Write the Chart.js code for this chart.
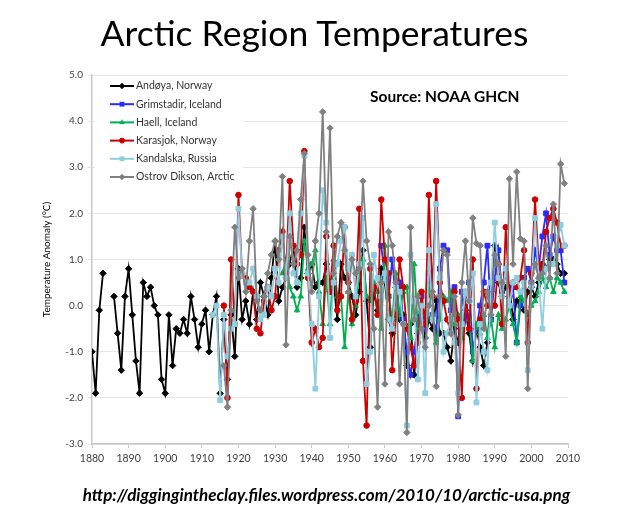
<!DOCTYPE html>
<html lang="en">
<head>
<meta charset="UTF-8">
<title>Arctic Region Temperatures</title>
<script src="https://cdn.jsdelivr.net/npm/chart.js"></script>
<style>
  body { margin: 0; background: #fff; }
  #wrap { position: relative; width: 629px; height: 525px; font-family: Lato, "Open Sans", sans-serif; }
  #chart { position: absolute; left: 0; top: 0; }
  #title { position: absolute; left: 0; top: 13px; width: 629px; margin: 0; text-align: center;
           font-size: 35.5px; line-height: 40px; font-weight: normal; color: #000; }
  #source { position: absolute; left: 370px; top: 87px; font-size: 15.5px; font-weight: bold; color: #000; }
  #credit { position: absolute; left: 12px; top: 484px; width: 629px; text-align: center;
            font-size: 17px; font-weight: bold; font-style: italic; color: #000; }
</style>
</head>
<body>
<div id="wrap">
  <canvas id="chart" width="629" height="525"></canvas>
  <h1 id="title">Arctic Region Temperatures</h1>
  <div id="source">Source: NOAA GHCN</div>
  <div id="credit">http://diggingintheclay.files.wordpress.com/2010/10/arctic-usa.png</div>
</div>

<script>
// yearly anomalies (°C), each list starts at its own first year
const andoyaFrom = 1880;
const andoya = [-1.0, -1.9, -0.1, 0.7, null, null,
  0.2, -0.6, -1.4, 0.2, 0.8, -0.2, -1.2, -1.9, 0.5, 0.2, 0.4, 0.0, -0.2, -1.6,
  -1.9, -0.2, -1.3, -0.5, -0.6, -0.3, -0.6, 0.2, -0.3, -0.9, -0.4, -0.1, -1.0, -0.2,
  0.2, -1.9, -0.3, -1.6, -0.2, -1.1, 0.8, -0.3, 0.1, -0.4, 0.3, -0.3, 0.5, 0.2,
  -0.2, 0.6, 1.4, 0.1, 0.4, 0.6, 0.9, 1.3, 0.4, 0.6, 1.7, 0.7, 0.9, 0.4, 0.5, 0.5,
  0.9, 0.3, 0.5, -0.3, 0.9, 0.6, 0.5, 0.2, -0.2, 0.3, 1.2, 0.1, -0.9, 0.3, -0.1,
  0.8, 0.5, -0.3, -0.6, 0.4, -0.3, -0.2, -1.3, -0.4, -1.5, -0.6, -0.2, -0.7, -0.3,
  -0.5, 0.1, -0.6, -0.6, -0.9, -1.2, -0.5, -0.8, -0.3, -0.1, -0.6, -1.2, -0.5,
  -0.9, -1.3, -0.8, 0.3, 1.3, 0.5, 0.2, 0.4, 0.4, -0.3, 0.1, 0.1, -0.1, 0.3, 0.4,
  0.2, 0.5, 0.9, 0.8, 1.0, 1.0, 0.9, 0.7, 0.7];

const grimstadirFrom = 1959;
const grimstadir = [1.3, 0.6, 0.2, 1.0, 0.1, 0.5, -0.3, -1.0, -1.5, -1.0, -0.4, 0.2,
  -0.5, 0.7, -0.2, -0.6, 0.8, 1.3, 1.2, -0.1, 0.4, -2.4, 0.3, -0.3, 0.5, -1.0, -0.5,
  0.0, 0.5, 1.3, -0.3, 0.6, 1.2, 0.3, 0.7, 0.2, 0.4, -0.8, 0.0, 0.6, 0.8, 0.5, 1.2,
  0.8, 1.5, 2.0, 1.1, 1.5, 1.2, 1.2, 0.5];

const haellFrom = 1932;
const haell = [0.7, 1.0, 0.4, 0.2, -0.1, 0.2, 1.4, 0.8, 0.9, 1.2, 0.3, -0.4, 0.6, -0.4,
  1.0, 0.2, 0.2, -0.9, 0.3, -0.4, 0.0, 0.7, 1.0, 0.2, 0.1, 0.5, 0.3, -0.5, 1.3, 0.2,
  -0.3, 0.7, -0.2, 0.3, 0.4, -0.7, 0.9, -0.5, -0.1, -0.2, 0.4, -0.2, -0.8, -0.3, 0.2,
  0.1, 0.3, -0.4, -0.2, -0.7, 0.1, -0.3, -1.2, -0.4, -0.6, -0.2, -0.7, -0.3, -0.9,
  -0.2, -0.5, -0.3, 0.0, -0.4, -0.8, 0.2, 0.1, -0.2, 0.0, 0.1, 0.3, 0.6, 0.4, 0.6,
  0.3, 0.6, 0.5, 0.3];

const karasjokFrom = 1916;
const karasjok = [0.0, -2.0, 1.0, -0.4, 2.4, 0.7, 0.6, 0.4, 0.3, -0.5, -0.6, 0.1, 0.4,
  -0.1, 0.2, 1.2, 1.6, 0.7, 2.7, 1.3, 0.9, 1.1, 3.35, 0.6, -0.8, -0.5, -0.9, -0.7, 1.5,
  0.3, 1.3, -0.1, 0.2, 1.7, 0.5, -0.3, 0.1, 2.1, -1.2, -2.6, 0.8, 0.4, -0.2, 2.3, 1.0,
  0.7, -1.4, -0.2, 1.0, 0.4, -0.5, -0.9, -1.3, -0.8, 0.3, -0.4, 2.4, 0.2, 2.7, 0.5,
  0.1, -0.3, -0.6, 0.3, -0.3, -2.0, 0.3, -0.5, 1.0, -1.8, -0.3, 0.3, 0.0, 0.0, 0.0,
  0.9, -0.4, 1.7, 0.2, 0.5, 0.4, 0.6, 1.2, -0.8, 0.7, 2.3, 0.9, 0.8, 1.6, 1.9, 2.1,
  1.8, 1.3, 1.3];

const kandalskaFrom = 1913;
const kandalska = [-0.2, 0.0, -2.05, -0.2, -1.1, -0.5, -0.4, 2.1, 0.7, 0.5, 0.5, 0.8,
  0.2, -0.3, -0.2, 0.4, 0.2, 0.8, 0.5, 1.5, 0.6, 2.0, 0.7, 0.5, 2.0, 3.25, 0.7, -0.4,
  -1.8, 0.2, 2.5, 1.8, -0.7, 0.5, 0.9, 1.4, 1.7, 0.8, 1.1, 0.2, 0.9, 1.9, -1.7, -1.0,
  1.1, 0.6, 0.2, 0.7, -0.3, -0.5, 0.4, 0.3, -0.4, -2.6, 1.1, 0.1, -1.6, 0.0, -1.9,
  1.2, -0.3, 2.2, 0.6, -1.0, -0.6, -0.3, -0.8, -1.9, -0.4, 0.3, 0.1, 0.7, -2.1, -0.4,
  -1.0, -1.4, 0.5, 1.8, 0.6, 0.2, 0.8, 0.0, 0.5, 0.6, 0.3, 0.5, -1.4, 0.4, 1.9, 0.6,
  -0.5, 0.8, 0.9, 0.9, 1.3, 1.75, 1.3];

const diksonFrom = 1916;
const dikson = [-1.3, -2.2, -0.1, 1.7, 0.6, 0.8, 0.3, 1.4, 2.1, 0.1, -0.1, 0.2, 0.7,
  1.1, 1.4, 1.0, 2.8, -0.85, 1.5, 0.9, 1.2, 2.3, 3.3, 1.1, 0.3, 1.4, 2.0, 4.2, 1.6,
  3.85, 0.7, 1.5, 1.8, 1.2, 0.3, 1.0, 0.7, 0.8, 2.7, 1.4, 0.9, -0.5, -2.2, 0.5, -1.7,
  1.6, 1.3, 0.5, -1.7, -0.4, -2.75, 1.7, -0.3, 0.2, -0.5, -0.9, 0.0, 0.3, -1.75, 0.2,
  1.2, 1.1, -0.6, 0.2, -2.37, 0.5, 1.4, 0.1, 1.9, 1.35, 1.3, -0.5, 0.3, -0.2, 1.1,
  0.9, 0.5, -1.1, 2.75, 0.9, 2.9, 1.45, 1.4, -1.8, 0.5, 0.9, 0.6, 0.7, 1.3, 0.6, 2.2,
  0.7, 3.07, 2.65];

const seriesNames = ['Andøya, Norway', 'Grimstadir, Iceland', 'Haell, Iceland',
  'Karasjok, Norway', 'Kandalska, Russia', 'Ostrov Dikson, Arctic'];
const seriesColors = ['#000000', '#2a2aff', '#00b050', '#cc0000', '#8fcde0', '#808080'];
const seriesMarkers = ['rectRot', 'rect', 'triangle', 'circle', 'rect', 'rectRot'];
const yTicks = [-3, -2, -1, 0, 1, 2, 3, 4, 5];

function toPoints(from, vals) {
    return vals.map((v, i) => ({ x: from + i, y: v }));
}

const seriesData = [
    toPoints(andoyaFrom, andoya),
    toPoints(grimstadirFrom, grimstadir),
    toPoints(haellFrom, haell),
    toPoints(karasjokFrom, karasjok),
    toPoints(kandalskaFrom, kandalska),
    toPoints(diksonFrom, dikson)
];

const markerSize = { rectRot: 3.2, rect: 3.4, triangle: 3.2, circle: 2.8 };

function drawMarker(ctx, style, x, y, r) {
    ctx.beginPath();
    if (style === 'rectRot') {
        ctx.moveTo(x, y - r); ctx.lineTo(x + r, y); ctx.lineTo(x, y + r); ctx.lineTo(x - r, y);
    } else if (style === 'rect') {
        const s = r * Math.SQRT1_2;
        ctx.rect(x - s, y - s, 2 * s, 2 * s);
    } else if (style === 'triangle') {
        ctx.moveTo(x, y - r); ctx.lineTo(x + r * 0.87, y + r * 0.5); ctx.lineTo(x - r * 0.87, y + r * 0.5);
    } else {
        ctx.arc(x, y, r, 0, Math.PI * 2);
    }
    ctx.closePath();
    ctx.fill();
}

// legend drawn inside the plot, top left, on a white box
const insideLegend = {
    id: 'insideLegend',
    afterDraw(chart) {
        const ctx = chart.ctx;
        const left = chart.chartArea.left;
        const top = chart.chartArea.top;
        ctx.save();
        ctx.fillStyle = '#ffffff';
        ctx.fillRect(left + 3, top + 3, 148, 108);
        seriesNames.forEach((name, i) => {
            const y = top + 11 + i * 18.2;
            ctx.strokeStyle = seriesColors[i];
            ctx.fillStyle = seriesColors[i];
            ctx.lineWidth = 2;
            ctx.beginPath();
            ctx.moveTo(left + 18, y);
            ctx.lineTo(left + 42, y);
            ctx.stroke();
            drawMarker(ctx, seriesMarkers[i], left + 30, y, markerSize[seriesMarkers[i]]);
            ctx.fillStyle = '#333333';
            ctx.font = '10.5px Lato, sans-serif';
            ctx.textBaseline = 'middle';
            ctx.fillText(name, left + 44, y);
        });
        ctx.restore();
    }
};

const ctx = document.getElementById('chart').getContext('2d');
const arcticChart = new Chart(ctx, {
    type: 'line',
    data: {
        datasets: seriesNames.map((name, i) => ({
            label: name,
            data: seriesData[i],
            borderColor: seriesColors[i],
            backgroundColor: seriesColors[i],
            pointBackgroundColor: seriesColors[i],
            pointBorderColor: seriesColors[i],
            pointStyle: seriesMarkers[i],
            pointRadius: markerSize[seriesMarkers[i]],
            pointBorderWidth: 1,
            borderWidth: 1.8,
            tension: 0,
            spanGaps: false,
            order: 6 - i
        }))
    },
    options: {
        responsive: false,
        animation: false,
        layout: {
            padding: { left: 41, right: 61, top: 75, bottom: 52 }
        },
        plugins: {
            legend: { display: false },
            tooltip: { enabled: false }
        },
        scales: {
            x: {
                type: 'linear',
                min: 1880,
                max: 2010,
                afterFit: scale => { scale.height = 29; },
                ticks: {
                    stepSize: 10,
                    maxRotation: 0,
                    padding: 4,
                    color: '#404040',
                    font: { family: 'Lato', size: 10.5 },
                    callback: value => String(value)
                },
                grid: { drawOnChartArea: false, drawTicks: true, tickLength: 4, color: '#c8c8c8' },
                border: { color: '#c8c8c8', width: 1.5 }
            },
            y: {
                min: -3,
                max: 5,
                afterFit: scale => { scale.width = 51; },
                afterBuildTicks: scale => { scale.ticks = yTicks.map(v => ({ value: v })); },
                ticks: {
                    padding: 5,
                    color: '#404040',
                    font: { family: 'Lato', size: 10 },
                    callback: value => value.toFixed(1)
                },
                grid: { color: '#e6e6e6', tickLength: 4 },
                border: { color: '#c8c8c8', width: 1.5 },
                title: {
                    display: true,
                    text: 'Temperature Anomaly (°C)',
                    color: '#000000',
                    padding: 0,
                    font: { family: 'Lato', size: 10 }
                }
            }
        }
    },
    plugins: [insideLegend]
});
</script>
</body>
</html>
